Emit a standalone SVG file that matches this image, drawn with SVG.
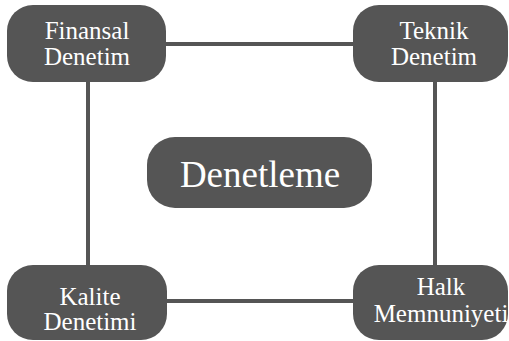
<svg xmlns="http://www.w3.org/2000/svg" width="509" height="341" viewBox="0 0 509 341">
<style>
.n{fill:#555555}
.t{font-family:"Liberation Serif","Times New Roman",serif;fill:#ffffff;text-anchor:middle;font-size:25px}
.c{stroke:#555555;stroke-width:4;fill:none}
</style>
<rect width="509" height="341" fill="#ffffff"/>
<g id="connectors">
<line class="c" x1="160" y1="44" x2="360" y2="44"/>
<line class="c" x1="88" y1="75" x2="88" y2="272"/>
<line class="c" x1="435" y1="75" x2="435" y2="272"/>
<line class="c" x1="160" y1="301" x2="360" y2="301"/>
</g>
<g id="finansal">
<rect class="n" x="7" y="5" width="159" height="77" rx="26"/>
<text class="t" x="87" y="39">Finansal</text>
<text class="t" x="87" y="65">Denetim</text>
</g>
<g id="teknik">
<rect class="n" x="353" y="5" width="155" height="77" rx="26"/>
<text class="t" x="434" y="39">Teknik</text>
<text class="t" x="434" y="65">Denetim</text>
</g>
<g id="merkez">
<rect class="n" x="147" y="137" width="225" height="71" rx="28"/>
<text class="t" x="260" y="187" style="font-size:37px">Denetleme</text>
</g>
<g id="kalite">
<rect class="n" x="7" y="265" width="160" height="75" rx="26"/>
<text class="t" x="90" y="305">Kalite</text>
<text class="t" x="90" y="330">Denetimi</text>
</g>
<g id="halk">
<rect class="n" x="353" y="265" width="155" height="75" rx="26"/>
<text class="t" x="441" y="295">Halk</text>
<text class="t" x="441" y="322">Memnuniyeti</text>
</g>
</svg>
